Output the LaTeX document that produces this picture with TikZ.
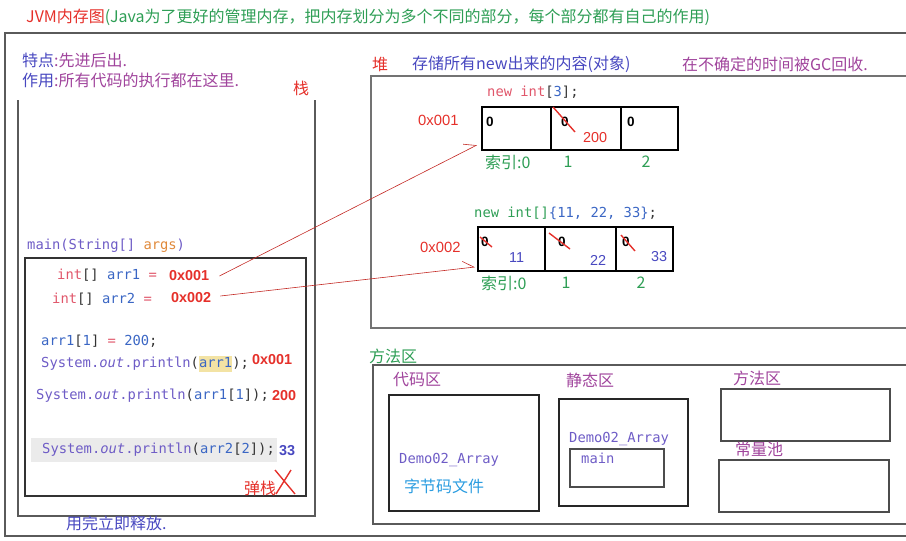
\documentclass[tikz,border=0pt]{standalone}
\usepackage{fontspec}
\setsansfont{Liberation Sans}
\setmonofont{DejaVu Sans Mono}
\newfontfamily\cjk{Noto Sans CJK SC}
\usetikzlibrary{positioning, arrows.meta}
\definecolor{jred}{HTML}{E5302A}
\definecolor{jgreen}{HTML}{2E9E55}
\definecolor{jblue}{HTML}{4848C0}
\definecolor{jpurple}{HTML}{A0449C}
\definecolor{jcode}{HTML}{6E5CC6}
\definecolor{jpink}{HTML}{E0566A}
\definecolor{jvar}{HTML}{3A66C4}
\definecolor{jorange}{HTML}{E0893A}
\definecolor{jcyan}{HTML}{2A9CE0}
\definecolor{jdark}{HTML}{333333}
\definecolor{jhl}{HTML}{F3E3A4}
\definecolor{jgray}{HTML}{EBEBEB}
\definecolor{jframe}{HTML}{5A5A5A}
\setlength{\fboxsep}{0pt}

\begin{document}
\begin{tikzpicture}[x=1pt, y=-1pt,
    txt/.style={anchor=west, inner sep=0pt, font=\cjk\fontsize{16}{18}\selectfont},
    code/.style={anchor=west, inner sep=0pt, font=\ttfamily\fontsize{13.8}{16}\selectfont, text=jdark},
    addr/.style={anchor=west, inner sep=0pt, font=\sffamily\bfseries\fontsize{14.4}{17}\selectfont, text=jred},
    haddr/.style={addr, font=\sffamily\fontsize{14.8}{17}\selectfont},
    num/.style={anchor=west, inner sep=0pt, font=\sffamily\fontsize{14.4}{17}\selectfont},
    zero/.style={anchor=west, inner sep=0pt, font=\sffamily\bfseries\fontsize{13.5}{16}\selectfont},
    cell/.style={draw=black, line width=1.1pt, minimum width=#1, minimum height=43pt, inner sep=0pt, outer sep=0pt},
    box/.style={draw=black!85, line width=1.1pt, anchor=north west, inner sep=0pt, outer sep=0pt},
    frame/.style={draw=jframe, line width=1.1pt},
    strike/.style={jred, line width=1.4pt},
    ref/.style={jred!85!black, line width=0.6pt, -{Straight Barb[left, length=11pt, width=14pt]}}]
    \useasboundingbox (0,0) rectangle (906,541);
    \node[txt] (title) at (26,17) {\textcolor{jred}{JVM内存图}\textcolor{jgreen}{(Java为了更好的管理内存，把内存划分为多个不同的部分，每个部分都有自己的作用)}};
    \draw[frame] (906,33) -- (5,33) -- (5,536) -- (906,536);

    % stack
    \node[txt, text=jblue] (feat) at (22,60) {特点\textcolor{jpurple}{:先进后出.}};
    \node[txt, text=jblue] (use) at (22,80) {作用\textcolor{jpurple}{:所有代码的执行都在这里.}};
    \node[txt, text=jred] (stk) at (293,88) {栈};
    \draw[frame] (18,100) -- (18,516) -- (315,516) -- (315,100);
    \node[code] (sig) at (27,246) {\textcolor{jcode}{main(String[]} \textcolor{jorange}{args}\textcolor{jcode}{)}};
    \draw[frame, draw=jdark] (25,258) rectangle (306,496);
    \node[code] (d1) at (57,275) {\textcolor{jpink}{int}[] \textcolor{jvar}{arr1} \textcolor{jpink}{=}};
    \node[addr] (p1) at (169,276) {0x001};
    \node[code] (d2) at (52,299) {\textcolor{jpink}{int}[] \textcolor{jvar}{arr2} \textcolor{jpink}{=}};
    \node[addr] (p2) at (171,298) {0x002};
    \node[code] (s1) at (41,341) {\textcolor{jvar}{arr1}[\textcolor{jvar}{1}] \textcolor{jpink}{=} \textcolor{jvar}{200};};
    \node[code] (s2) at (41,364) {\textcolor{jcode}{System.\textit{out}.println}(\colorbox{jhl}{\strut\textcolor{jvar}{arr1}});};
    \node[addr] (o1) at (252,360) {0x001};
    \node[code] (s3) at (36,396) {\textcolor{jcode}{System.\textit{out}.println}(\textcolor{jvar}{arr1}[\textcolor{jvar}{1}]);};
    \node[addr] (o2) at (272,396) {200};
    \node[code, fill=jgray, inner ysep=5pt] (s4) at (31,450) {\hspace*{11pt}\textcolor{jcode}{System.\textit{out}.println}(\textcolor{jvar}{arr2}[\textcolor{jvar}{2}]);\hspace*{2pt}};
    \node[addr, text=jblue] (o3) at (279,451) {33};
    \node[txt, text=jred] (pop) at (244,488) {弹栈};
    \draw[jred, line width=1.4pt] (275,470) -- (295,494) (291,470) -- (276,494);
    \node[txt, text=jblue] (free) at (66,523) {用完立即释放.};

    % heap
    \node[txt, text=jred] (heap) at (372,64) {堆};
    \node[txt, text=jblue] (hdesc) at (412,64) {存储所有new出来的内容(对象)};
    \node[txt, text=jpurple] (gc) at (682,64) {在不确定的时间被GC回收.};
    \draw[frame, draw=black!55] (906,76) -- (371,76) -- (371,328) -- (906,328);

    \node[code] (n1) at (487,92) {\textcolor{jpink}{new int}[\textcolor{jvar}{3}];};
    \node[haddr] (h1) at (418,120) {0x001};
    \node[cell=69pt, anchor=north west] (a0) at (482,107) {};
    \node[cell=70pt, right=0pt of a0] (a1) {};
    \node[cell=57pt, right=0pt of a1] (a2) {};
    \node[zero] (za0) at (486,122) {0};
    \node[zero] (za1) at (561,122) {0};
    \node[zero] (za2) at (627,122) {0};
    \draw[strike] (553,107) -- (575,132);
    \node[num, text=jred] (va1) at (583,138) {200};
    \node[txt, text=jgreen] (ia0) at (485,162) {索引:0};
    \node[txt, text=jgreen, anchor=center] (ia1) at (568,162) {1};
    \node[txt, text=jgreen, anchor=center] (ia2) at (646,162) {2};

    \node[code] (n2) at (474,213) {\textcolor{jgreen}{new int[]}\textcolor{jvar}{\{11, 22, 33\}};};
    \node[haddr] (h2) at (420,247) {0x002};
    \node[cell=67pt, minimum height=44pt, anchor=north west] (b0) at (478,227) {};
    \node[cell=71pt, minimum height=44pt, right=0pt of b0] (b1) {};
    \node[cell=57pt, minimum height=44pt, right=0pt of b1] (b2) {};
    \node[zero] (zb0) at (481,242) {0};
    \node[zero] (zb1) at (558,242) {0};
    \node[zero] (zb2) at (622,242) {0};
    \draw[strike] (480,237) -- (492,247);
    \draw[strike] (549,233) -- (570,249);
    \draw[strike] (621,235) -- (635,251);
    \node[num, text=jblue] (vb0) at (509,258) {11};
    \node[num, text=jblue] (vb1) at (590,260) {22};
    \node[num, text=jblue] (vb2) at (651,257) {33};
    \node[txt, text=jgreen] (ib0) at (481,283) {索引:0};
    \node[txt, text=jgreen, anchor=center] (ib1) at (566,283) {1};
    \node[txt, text=jgreen, anchor=center] (ib2) at (641,283) {2};

    \draw[ref] ([xshift=10pt]p1.east) -- ([shift={(-5,-5)}]a0.south west);
    \draw[ref] ([shift={(9,-2)}]p2.east) -- ([shift={(-3,-4)}]b0.south west);

    % method area
    \node[txt, text=jgreen] (marea) at (369,356) {方法区};
    \draw[frame] (906,365) -- (373,365) -- (373,524) -- (906,524);
    \node[txt, text=jpurple] (codel) at (393,380) {代码区};
    \node[box, minimum width=150pt, minimum height=116pt] (codebox) at (389,395) {};
    \node[code, text=jcode] (cls1) at (399,460) {Demo02\_Array};
    \node[txt, text=jcyan] (bytec) at (404,486) {字节码文件};
    \node[txt, text=jpurple] (statl) at (566,380) {静态区};
    \node[box, minimum width=129pt, minimum height=107pt] (statbox) at (559,399) {};
    \node[code, text=jcode] (cls2) at (569,439) {Demo02\_Array};
    \node[box, draw=black!70, minimum width=94pt, minimum height=38pt] (mainbox) at (570,449) {};
    \node[code, text=jcode] (mainl) at (581,458) {main};
    \node[txt, text=jpurple] (methl) at (733,378) {方法区};
    \node[box, draw=black!70, minimum width=169pt, minimum height=52pt] (methbox) at (721,389) {};
    \node[txt, text=jpurple] (constl) at (735,449) {常量池};
    \node[box, draw=black!70, minimum width=170pt, minimum height=52pt] (constbox) at (719,460) {};
\end{tikzpicture}
\end{document}
